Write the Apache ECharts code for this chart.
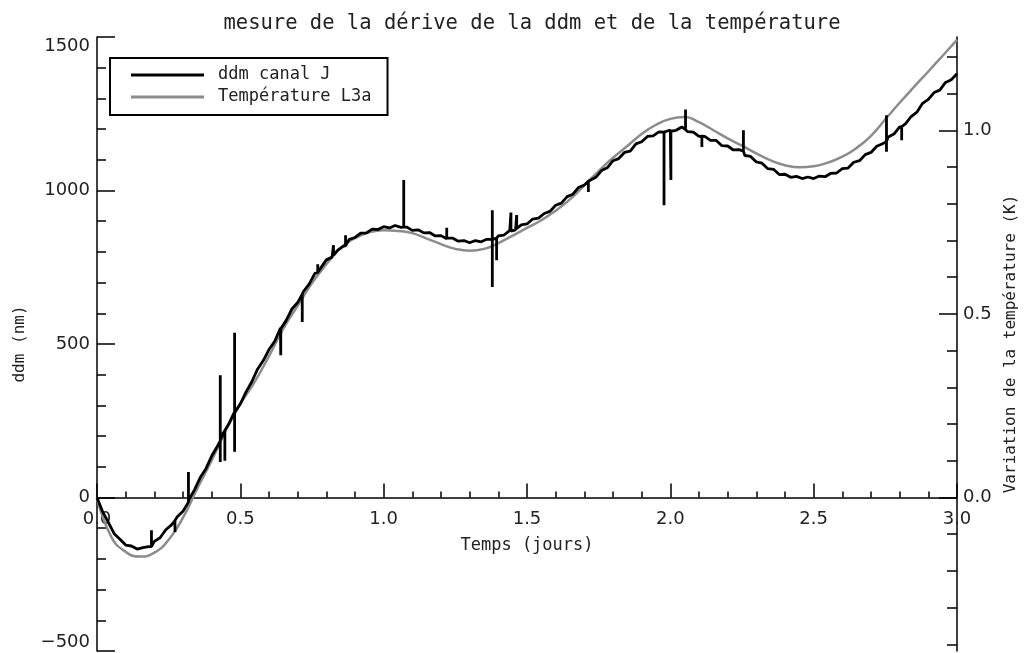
<!DOCTYPE html>
<html>
<head>
<meta charset="utf-8">
<script src="https://cdn.jsdelivr.net/npm/echarts@6/dist/echarts.min.js"></script>
<style>html,body{margin:0;padding:0;background:#fff}#c{width:1024px;height:653px}</style>
</head>
<body>
<div id="c"></div>
<script>
// ---- data ----
const ddmDays = [0.00,0.02,0.04,0.06,0.08,0.10,0.12,0.14,0.16,0.18,0.20,0.22,0.24,0.26,0.28,0.30,0.32,0.34,0.36,0.38,
0.40,0.42,0.44,0.46,0.48,0.50,0.52,0.54,0.56,0.58,0.60,0.62,0.64,0.66,0.68,0.70,0.72,0.74,0.76,0.78,
0.80,0.82,0.84,0.86,0.88,0.90,0.92,0.94,0.96,0.98,1.00,1.02,1.04,1.06,1.08,1.10,1.12,1.14,1.16,1.18,
1.20,1.22,1.24,1.26,1.28,1.30,1.32,1.34,1.36,1.38,1.40,1.42,1.44,1.46,1.48,1.50,1.52,1.54,1.56,1.58,
1.60,1.62,1.64,1.66,1.68,1.70,1.72,1.74,1.76,1.78,1.80,1.82,1.84,1.86,1.88,1.90,1.92,1.94,1.96,1.98,
2.00,2.02,2.04,2.06,2.08,2.10,2.12,2.14,2.16,2.18,2.20,2.22,2.24,2.26,2.28,2.30,2.32,2.34,2.36,2.38,
2.40,2.42,2.44,2.46,2.48,2.50,2.52,2.54,2.56,2.58,2.60,2.62,2.64,2.66,2.68,2.70,2.72,2.74,2.76,2.78,
2.80,2.82,2.84,2.86,2.88,2.90,2.92,2.94,2.96,2.98,3.00];
const ddmNm = [0,-47,-82,-118,-136,-155,-158,-168,-163,-160,-143,-131,-105,-89,-63,-45,-8,25,65,94,
135,167,210,240,280,305,344,377,418,446,482,509,552,577,614,635,671,695,730,747,
774,783,806,819,841,847,861,862,874,873,882,878,886,880,881,870,872,862,863,852,
853,843,845,835,837,830,837,833,841,838,852,855,870,872,888,891,907,910,925,932,
952,959,980,988,1010,1018,1035,1043,1065,1074,1097,1104,1124,1128,1152,1159,1176,1178,1191,1186,
1197,1196,1207,1192,1190,1176,1176,1163,1163,1146,1145,1132,1133,1114,1111,1093,1089,1071,1069,1052,
1053,1043,1046,1039,1044,1039,1047,1045,1056,1057,1071,1073,1092,1097,1117,1124,1144,1152,1174,1184,
1207,1217,1241,1255,1284,1297,1319,1327,1352,1361,1380];

// glitches (spikes) of the ddm signal
const spikeDays = [0.190,0.272,0.319,0.430,0.446,0.480,0.641,0.716,0.770,0.825,0.867,1.070,1.220,1.379,1.394,1.444,1.464,1.714,1.978,2.002,2.053,2.110,2.255,2.754,2.807];
const spikeBase = [-160,-75,-15,185,218,277,550,662,733,789,820,881,846,841,845,868,876,1030,1190,1193,1198,1177,1128,1160,1208];
const spikeHigh = [-107,-75,83,398,218,537,550,662,760,822,854,1034,879,936,845,928,920,1030,1190,1193,1264,1177,1196,1245,1208];
const spikeLow  = [-160,-112,-15,116,120,149,463,572,733,789,820,881,846,686,773,868,876,995,952,1034,1198,1142,1128,1126,1164];

const tempDays = [0.00,0.05,0.10,0.15,0.20,0.25,0.30,0.35,0.40,0.45,0.50,0.55,0.60,0.65,0.70,0.75,0.80,0.85,0.90,0.95,
1.00,1.05,1.10,1.15,1.20,1.25,1.30,1.35,1.40,1.45,1.50,1.55,1.60,1.65,1.70,1.75,1.80,1.85,1.90,1.95,
2.00,2.05,2.10,2.15,2.20,2.25,2.30,2.35,2.40,2.45,2.50,2.55,2.60,2.65,2.70,2.75,2.80,2.85,2.90,2.95,3.00];
const tempK = [0,-0.107,-0.148,-0.161,-0.150,-0.115,-0.055,0.025,0.101,0.184,0.255,0.315,0.385,0.460,0.522,0.584,0.635,0.680,0.706,0.722,
0.728,0.726,0.720,0.705,0.690,0.677,0.672,0.677,0.693,0.713,0.734,0.755,0.781,0.812,0.850,0.889,0.925,0.957,0.990,1.015,
1.031,1.036,1.022,1.000,0.978,0.958,0.937,0.918,0.905,0.899,0.902,0.912,0.928,0.952,0.985,1.030,1.075,1.118,1.160,1.203,1.246];

const rightMajor = [0, 0.5, 1.0];
const rightMinor = [-0.4,-0.3,-0.2,-0.1,0,0.1,0.2,0.3,0.4,0.5,0.6,0.7,0.8,0.9,1.0,1.1,1.2];

// ---- build series data ----
const ddmPts = ddmDays.map((d, i) => ({t: d, v: ddmNm[i], o: 0}));
spikeDays.forEach((d, i) => {
  ddmPts.push({t: d, v: spikeBase[i], o: 1});
  ddmPts.push({t: d, v: spikeHigh[i], o: 2});
  ddmPts.push({t: d, v: spikeLow[i], o: 3});
  ddmPts.push({t: d, v: spikeBase[i], o: 4});
});
ddmPts.sort((a, b) => (a.t - b.t) || (a.o - b.o));
const ddmData = ddmPts.map(p => [p.t, p.v]);
const tempData = tempDays.map((d, i) => [d, tempK[i]]);

const NUM = 'DejaVu Sans';
const TXT_FONT = 'DejaVu Sans Mono';
const TXT = '#222';
const GRID_TOP = 37, GRID_BOTTOM = 2, H = 653;
// x axis sits on ddm = 0 (3/4 of the way down the -500..1500 range)
const xOffset = -((H - GRID_BOTTOM - GRID_TOP) * 0.25);

const chart = echarts.init(document.getElementById('c'), null, {renderer: 'canvas'});
chart.setOption({
  animation: false,
  backgroundColor: '#fff',
  title: {
    text: 'mesure de la dérive de la ddm et de la température',
    left: 527, top: 8, textAlign: 'center',
    textStyle: {fontFamily: TXT_FONT, fontSize: 20.5, fontWeight: 'normal', color: TXT}
  },
  legend: {
    left: 110, top: 58, orient: 'vertical',
    borderColor: '#000', borderWidth: 2,
    padding: [8, 16, 9, 21],
    itemWidth: 73, itemHeight: 3, itemGap: 4,
    textStyle: {fontFamily: TXT_FONT, fontSize: 17, color: TXT, lineHeight: 18, padding: [0, 0, 0, 9]},
    data: [
      {name: 'ddm canal J', icon: 'rect', itemStyle: {color: '#000'}},
      {name: 'Température L3a', icon: 'rect', itemStyle: {color: '#8c8c8c'}}
    ]
  },
  grid: {left: 97, right: 67, top: GRID_TOP, bottom: GRID_BOTTOM, containLabel: false, outerBoundsMode: 'none'},
  xAxis: {
    type: 'value', min: 0, max: 3, interval: 0.5, offset: xOffset,
    axisLine: {show: true, onZero: false, lineStyle: {color: '#000', width: 1.5}},
    axisTick: {show: true, inside: true, length: 14, lineStyle: {color: '#000', width: 1.5}},
    minorTick: {show: true, splitNumber: 5, length: 6, lineStyle: {color: '#000', width: 1.5}},
    splitLine: {show: false},
    axisLabel: {margin: 13, fontFamily: NUM, fontSize: 18, color: TXT, formatter: v => v.toFixed(1), showMinLabel: true, showMaxLabel: true},
    name: 'Temps (jours)', nameLocation: 'middle', nameGap: 40,
    nameTextStyle: {fontFamily: TXT_FONT, fontSize: 17, color: TXT}
  },
  yAxis: [
    {
      type: 'value', min: -500, max: 1500, interval: 500, position: 'left',
      axisLine: {show: true, onZero: false, lineStyle: {color: '#000', width: 1.5}},
      axisTick: {show: true, inside: true, length: 18, lineStyle: {color: '#000', width: 1.5}},
      minorTick: {show: true, splitNumber: 5, length: 9, lineStyle: {color: '#000', width: 1.5}},
      splitLine: {show: false},
      axisLabel: {margin: 7, fontFamily: NUM, fontSize: 18, color: TXT,
        verticalAlignMinLabel: 'bottom', verticalAlignMaxLabel: 'top',
        formatter: v => String(v).replace('-', '\u2212')},
      name: 'ddm (nm)', nameLocation: 'middle', nameGap: 69, nameRotate: 90,
      nameTextStyle: {fontFamily: TXT_FONT, fontSize: 16, color: TXT}
    },
    {
      type: 'value', min: -0.418, max: 1.254, position: 'right',
      axisLine: {show: true, onZero: false, lineStyle: {color: '#000', width: 1.5}},
      axisTick: {show: true, inside: true, length: 18, customValues: rightMajor, lineStyle: {color: '#000', width: 1.5}},
      splitLine: {show: false},
      axisLabel: {margin: 6, fontFamily: NUM, fontSize: 18, color: TXT, customValues: rightMajor, formatter: v => v.toFixed(1)},
      name: 'Variation de la température (K)', nameLocation: 'middle', nameGap: 46, nameRotate: 90,
      nameTextStyle: {fontFamily: TXT_FONT, fontSize: 16, color: TXT}
    },
    {
      type: 'value', min: -0.418, max: 1.254, position: 'right',
      axisLine: {show: false, onZero: false},
      axisTick: {show: true, inside: true, length: 10, customValues: rightMinor, lineStyle: {color: '#000', width: 1.5}},
      splitLine: {show: false},
      axisLabel: {show: false}
    }
  ],
  series: [
    {
      name: 'Température L3a', type: 'line', yAxisIndex: 1, data: tempData,
      showSymbol: false, symbol: 'none', smooth: true,
      lineStyle: {color: '#8c8c8c', width: 2.5}, itemStyle: {color: '#8c8c8c'}, z: 2
    },
    {
      name: 'ddm canal J', type: 'line', yAxisIndex: 0, data: ddmData,
      showSymbol: false, symbol: 'none',
      lineStyle: {color: '#000', width: 2.8}, itemStyle: {color: '#000'}, z: 3
    }
  ]
});
</script>
</body>
</html>
